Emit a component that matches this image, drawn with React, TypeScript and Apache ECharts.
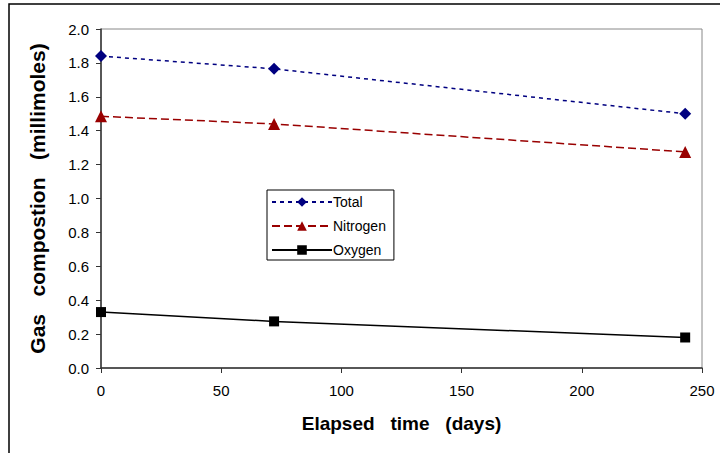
import React, { useEffect, useRef } from "react";
import * as echarts from "echarts";

const days = [0, 72, 243];
const totalValues = [1.84, 1.765, 1.5];
const nitrogenValues = [1.485, 1.44, 1.275];
const oxygenValues = [0.33, 0.275, 0.18];
const seriesNames = ["Total", "Nitrogen", "Oxygen"];

const toPairs = (xs: number[], ys: number[]) => xs.map((x, i) => [x, ys[i]]);

export default function App() {
  const ref = useRef<HTMLDivElement>(null);
  useEffect(() => {
    if (!ref.current) return;
    const chart = echarts.init(ref.current, null, { renderer: "svg" });
    const font = "Arial, 'Liberation Sans', sans-serif";
    chart.setOption({
      animation: false,
      backgroundColor: "#fff",
      textStyle: { fontFamily: font },
      graphic: [
        {
          type: "rect",
          shape: { x: 9, y: 4, width: 800, height: 600 },
          style: { fill: "none", stroke: "#000", lineWidth: 1.5 },
          silent: true,
          z: 0,
        },
      ],
      grid: { left: 101, right: 18, top: 29, bottom: 85, show: true, borderColor: "#888", borderWidth: 1 },
      xAxis: {
        type: "value",
        min: 0,
        max: 250,
        interval: 50,
        name: "Elapsed   time   (days)",
        nameLocation: "middle",
        nameGap: 46,
        nameTextStyle: { fontSize: 19, fontWeight: "bold", color: "#000", fontFamily: font },
        axisLine: { show: true, lineStyle: { color: "#333", width: 1.5 } },
        axisTick: { show: true, length: 5, lineStyle: { color: "#333" } },
        axisLabel: { fontSize: 15, color: "#000", margin: 15, fontFamily: font },
        splitLine: { show: false },
      },
      yAxis: {
        type: "value",
        min: 0,
        max: 2.0,
        interval: 0.2,
        name: "Gas   compostion   (millimoles)",
        nameLocation: "middle",
        nameGap: 53,
        nameTextStyle: { fontSize: 21, fontWeight: "bold", color: "#000", fontFamily: font },
        axisLine: { show: true, lineStyle: { color: "#333", width: 1.5 } },
        axisTick: { show: true, length: 5, lineStyle: { color: "#333" } },
        axisLabel: { fontSize: 15, color: "#000", margin: 12, formatter: (v: number) => v.toFixed(1), fontFamily: font },
        splitLine: { show: false },
      },
      legend: {
        orient: "vertical",
        left: 267,
        top: 190,
        padding: [5, 8, 3, 4],
        borderColor: "#000",
        borderWidth: 1,
        borderRadius: 0,
        backgroundColor: "#fff",
        itemWidth: 60,
        itemHeight: 12,
        itemGap: 10,
        textStyle: { fontSize: 14, color: "#000", fontFamily: font, padding: [0, 0, 0, -4] },
        data: seriesNames,
      },
      series: [
        {
          name: seriesNames[0],
          type: "line",
          data: toPairs(days, totalValues),
          symbol: "diamond",
          symbolSize: 12,
          itemStyle: { color: "#000080" },
          lineStyle: { color: "#000080", width: 1.5, type: [4, 4] },
        },
        {
          name: seriesNames[1],
          type: "line",
          data: toPairs(days, nitrogenValues),
          symbol: "triangle",
          symbolSize: 12,
          itemStyle: { color: "#990000" },
          lineStyle: { color: "#990000", width: 1.5, type: [8, 4] },
        },
        {
          name: seriesNames[2],
          type: "line",
          data: toPairs(days, oxygenValues),
          symbol: "rect",
          symbolSize: 10,
          itemStyle: { color: "#000" },
          lineStyle: { color: "#000", width: 1.5, type: "solid" },
        },
      ],
    });
    return () => chart.dispose();
  }, []);
  return <div ref={ref} style={{ width: 720, height: 453, position: "absolute", left: 0, top: 0 }} />;
}
